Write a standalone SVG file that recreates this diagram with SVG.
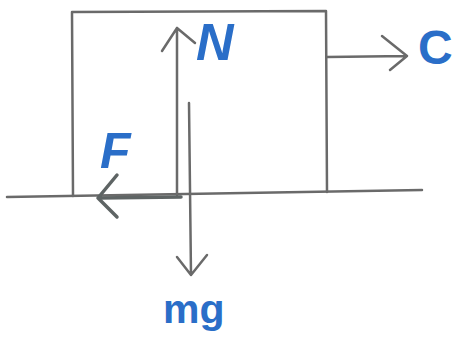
<svg xmlns="http://www.w3.org/2000/svg" width="457" height="351" viewBox="0 0 457 351">
<style>
.ln{stroke:#6a6a6a;stroke-width:2.5;fill:none;stroke-linecap:round;stroke-linejoin:round}
.lbl{fill:#2a6ec8;font-family:"Liberation Sans",Arial,sans-serif;font-weight:bold}
</style>
<rect width="457" height="351" fill="#ffffff"/>
<g id="ground"><path class="ln" d="M7,197 L422,190"/></g>
<g id="block"><path class="ln" d="M73,196 L72,12 L326,11 L327,192"/></g>
<g id="connectors">
<path class="ln" d="M177,195 L177,28 M162,51 L177,28 L195,43"/>
<path class="ln" d="M189,103 L191,275 M177,257 L191,275 L207,255"/>
<path class="ln" d="M181,197 L98,198 M117,175 L98,198 L117,217" style="stroke-width:3.5;stroke:#5e6464"/>
<path class="ln" d="M327,57 L407,56 M382,36 L407,56 L390,70"/>
</g>
<g id="labels">
<text class="lbl" x="196" y="60" font-size="52" font-style="italic">N</text>
<text class="lbl" x="100" y="168" font-size="50" font-style="italic">F</text>
<text class="lbl" x="418" y="64" font-size="48">C</text>
<text class="lbl" x="163" y="323" font-size="41">mg</text>
</g>
</svg>
